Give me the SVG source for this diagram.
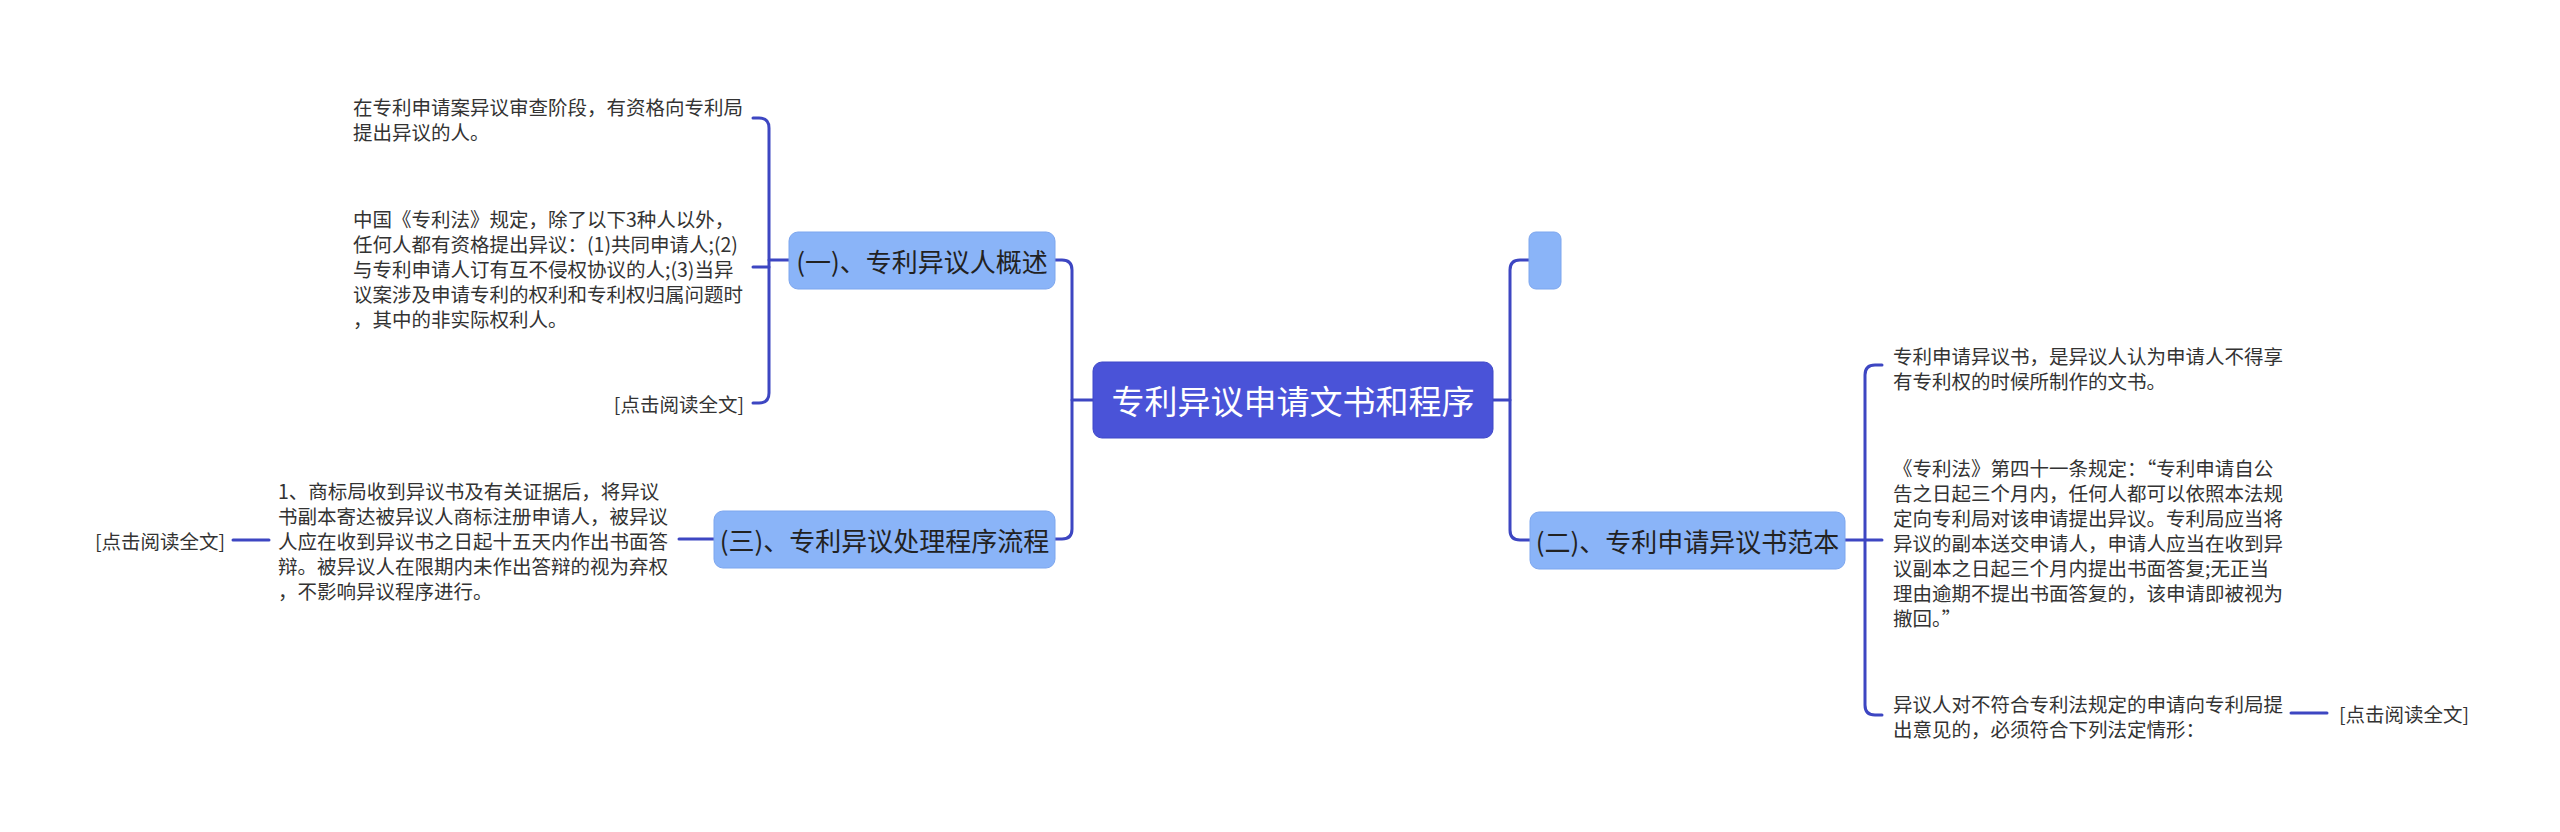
<svg xmlns="http://www.w3.org/2000/svg" width="2560" height="832" viewBox="0 0 2560 832">
<style>
.bg{fill:#ffffff}
.conn path{fill:none;stroke:#3d46c2;stroke-width:3;stroke-linecap:round}
.root rect{fill:#4a53d8;stroke:#3f48c8;stroke-width:1}
.root text{fill:#ffffff;font-size:33px}
.sub rect{fill:#8ab4f8;stroke:#7da6ee;stroke-width:1}
.sub text{fill:#222222;font-size:26px}
text{font-family:"Noto Sans CJK SC","Noto Sans",sans-serif;dominant-baseline:central}
.leaf text{fill:#333333;font-size:19.5px}
</style>
<rect class="bg" x="0" y="0" width="2560" height="832"/>
<g class="conn" id="connectors">
<path d="M1093,400 H1072"/>
<path d="M1055,260 H1062 Q1072,260 1072,270 V529 Q1072,539 1062,539 H1055"/>
<path d="M1493,400 H1510"/>
<path d="M1529,260 H1520 Q1510,260 1510,270 V530 Q1510,540 1520,540 H1530"/>
<path d="M789,260 H769"/>
<path d="M753,118 H759 Q769,118 769,128 V393 Q769,403 759,403 H753"/>
<path d="M753,267 H769"/>
<path d="M714,539 H679"/>
<path d="M269,540 H233"/>
<path d="M1845,540 H1882"/>
<path d="M1882,365 H1875 Q1865,365 1865,375 V705 Q1865,715 1875,715 H1882"/>
<path d="M2291,713 H2327"/>
</g>
<g class="root" id="node-root">
<rect x="1093" y="362" width="400" height="76" rx="9"/>
<text x="1293" y="400" text-anchor="middle">专利异议申请文书和程序</text>
</g>
<g class="sub" id="node-b1">
<rect x="789" y="232" width="266" height="57" rx="9"/>
<text x="922" y="260.5" text-anchor="middle">(一)、专利异议人概述</text>
</g>
<g class="sub" id="node-b3">
<rect x="714" y="511" width="341" height="57" rx="9"/>
<text x="884.5" y="539.5" text-anchor="middle">(三)、专利异议处理程序流程</text>
</g>
<g class="sub" id="node-blank">
<rect x="1529" y="232" width="32" height="57" rx="7"/>
</g>
<g class="sub" id="node-b2">
<rect x="1530" y="512" width="315" height="57" rx="9"/>
<text x="1687.5" y="540.5" text-anchor="middle">(二)、专利申请异议书范本</text>
</g>
<g class="leaf" id="node-b1-c1">
<text x="353" y="106">在专利申请案异议审查阶段，有资格向专利局</text>
<text x="353" y="131">提出异议的人。</text>
</g>
<g class="leaf" id="node-b1-c2">
<text x="353" y="218">中国《专利法》规定，除了以下3种人以外，</text>
<text x="353" y="243">任何人都有资格提出异议：(1)共同申请人;(2)</text>
<text x="353" y="268">与专利申请人订有互不侵权协议的人;(3)当异</text>
<text x="353" y="293">议案涉及申请专利的权利和专利权归属问题时</text>
<text x="353" y="318">，其中的非实际权利人。</text>
</g>
<g class="leaf" id="node-b1-c3">
<text x="744" y="403" text-anchor="end">[点击阅读全文]</text>
</g>
<g class="leaf" id="node-b3-c1">
<text x="278" y="490">1、商标局收到异议书及有关证据后，将异议</text>
<text x="278" y="515">书副本寄达被异议人商标注册申请人，被异议</text>
<text x="278" y="540">人应在收到异议书之日起十五天内作出书面答</text>
<text x="278" y="565">辩。被异议人在限期内未作出答辩的视为弃权</text>
<text x="278" y="590">，不影响异议程序进行。</text>
</g>
<g class="leaf" id="node-b3-c1-more">
<text x="95" y="540">[点击阅读全文]</text>
</g>
<g class="leaf" id="node-b2-c1">
<text x="1893" y="355">专利申请异议书，是异议人认为申请人不得享</text>
<text x="1893" y="380">有专利权的时候所制作的文书。</text>
</g>
<g class="leaf" id="node-b2-c2">
<text x="1893" y="467">《专利法》第四十一条规定：“专利申请自公</text>
<text x="1893" y="492">告之日起三个月内，任何人都可以依照本法规</text>
<text x="1893" y="517">定向专利局对该申请提出异议。专利局应当将</text>
<text x="1893" y="542">异议的副本送交申请人，申请人应当在收到异</text>
<text x="1893" y="567">议副本之日起三个月内提出书面答复;无正当</text>
<text x="1893" y="592">理由逾期不提出书面答复的，该申请即被视为</text>
<text x="1893" y="617">撤回。”</text>
</g>
<g class="leaf" id="node-b2-c3">
<text x="1893" y="703">异议人对不符合专利法规定的申请向专利局提</text>
<text x="1893" y="728">出意见的，必须符合下列法定情形：</text>
</g>
<g class="leaf" id="node-b2-c3-more">
<text x="2339" y="713">[点击阅读全文]</text>
</g>
</svg>
